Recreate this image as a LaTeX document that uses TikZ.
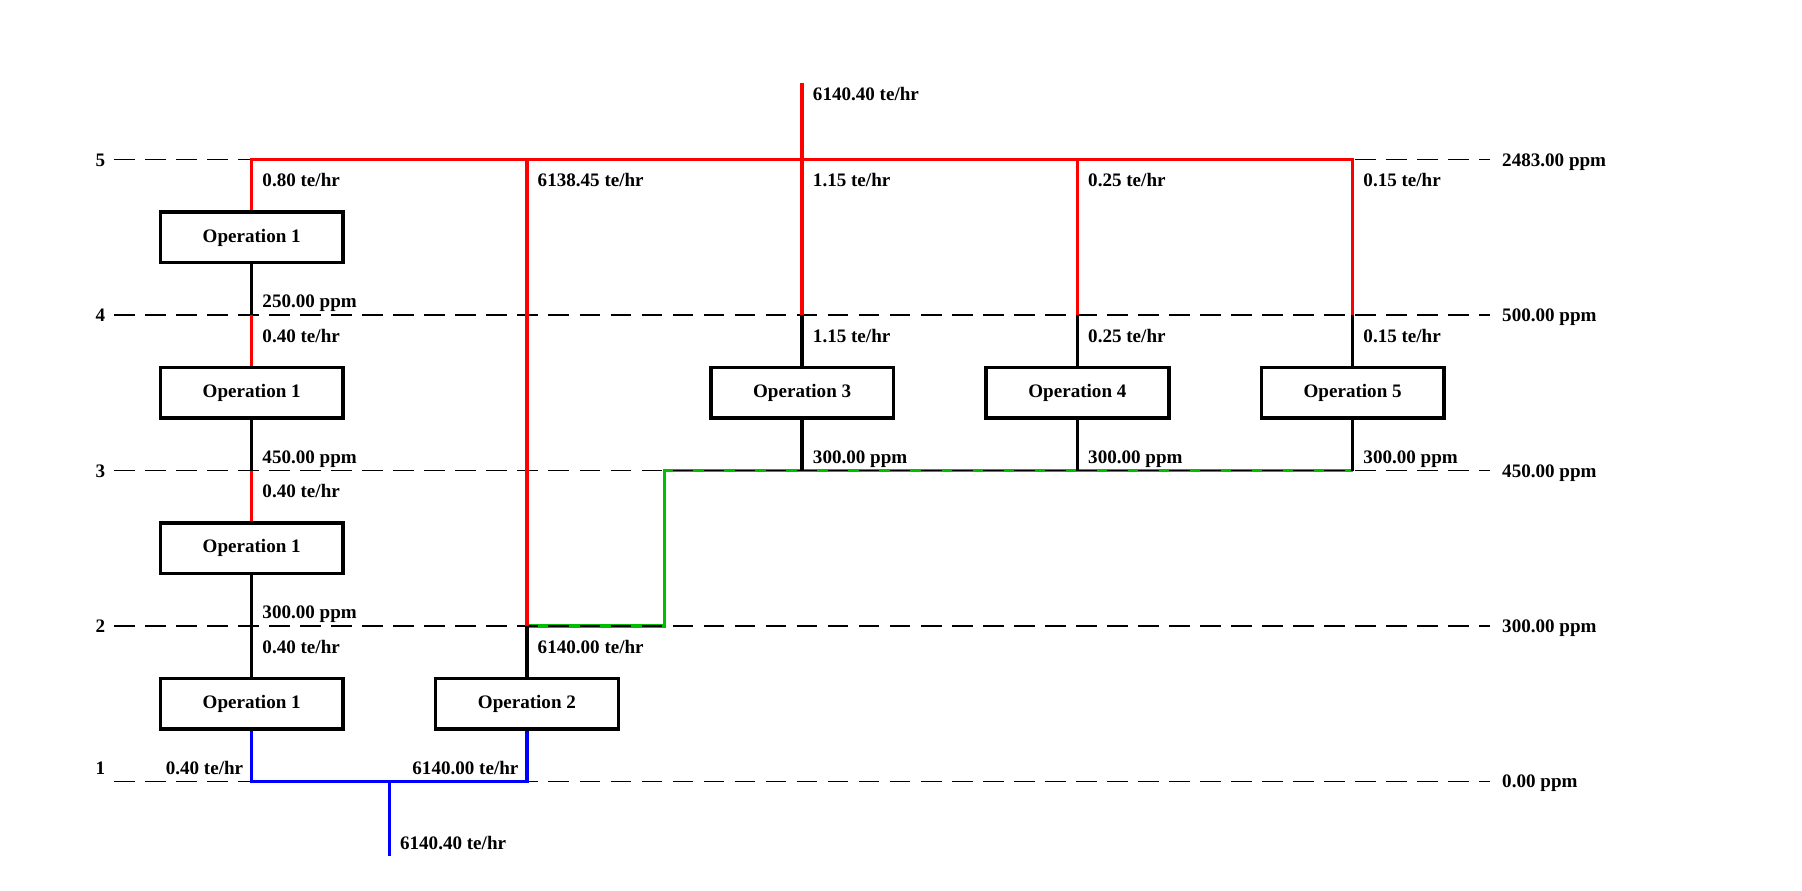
\documentclass[tikz,border=0pt]{standalone}
\usepackage{fontspec}
\setmainfont{Liberation Serif}
\usetikzlibrary{positioning}

\definecolor{hotred}{RGB}{255,0,0}
\definecolor{coldblue}{RGB}{0,0,255}
\definecolor{reusegreen}{RGB}{0,190,0}

\begin{document}
\begin{tikzpicture}[
  x=119.75pt, y=67.625pt,
  txt/.style={font=\bfseries\fontsize{8.3}{10}\selectfont, inner sep=0pt},
  op/.style={txt, rectangle, draw, line width=1.5pt,
             minimum width=79.5pt, minimum height=22pt},
  fl-dn/.style={txt, anchor=base west, xshift=4.5pt, yshift=-11.8pt},
  fl-up/.style={txt, anchor=base west, xshift=4.5pt, yshift=3.2pt},
  fl-ul/.style={txt, anchor=base east, xshift=-3.5pt, yshift=3.2pt},
  level/.style={line width=0.6pt, dash pattern=on 9pt off 4.5pt},
  pipe/.style={line width=1.5pt},
  hot/.style={pipe, hotred},
  cold/.style={pipe, coldblue},
  reuse/.style={pipe, reusegreen},
]
\useasboundingbox (0.0856,0.2976) rectangle (6.6326,6.0277);

% ---- operations ----
\node[op] (op1a) at (1,4.5) {Operation 1};
\node[op] (op1b) at (1,3.5) {Operation 1};
\node[op] (op1c) at (1,2.5) {Operation 1};
\node[op] (op1d) at (1,1.5) {Operation 1};
\node[op] (op2)  at (2,1.5) {Operation 2};
\foreach \i in {3,4,5}
  \node[op] (op\i) at (\i,3.5) {Operation \i};

% ---- junctions (column, level) ----
\foreach \c in {1,...,5}
  \foreach \k in {1,...,5}
    \coordinate (j\c\k) at (\c,\k);
\coordinate (feedin)  at (3,5.4955);
\coordinate (mix)     at (1.5,1);
\coordinate (feedout) at (1.5,0.52);
\coordinate (stepbot) at (2.5,2);
\coordinate (steptop) at (2.5,3);

% ---- reuse line ----
\draw[reuse] (j22) -- (stepbot) -- (steptop) -- (j53);

% ---- concentration levels ----
\foreach \k/\ppm/\dy in {1/0.00/6pt, 2/300.00/0pt, 3/450.00/0pt,
                         4/500.00/0pt, 5/2483.00/0pt} {
  \draw[level] (0.5,\k) -- (5.5,\k);
  \node[txt, anchor=base, yshift=-2.8pt+\dy] (lvl\k) at (0.45,\k) {\k};
  \node[txt, anchor=base west, xshift=5pt, yshift=-2.8pt] (ppm\k) at (5.5,\k) {\ppm{} ppm};
}

% ---- fresh water ----
\draw[hot] (feedin) -- (j34);
\draw[hot] (op1a.north) -- (j15) -- (j55) -- (j54);
\draw[hot] (j25) -- (j22);
\draw[hot] (j45) -- (j44);
\draw[hot] (j14) -- (op1b.north);
\draw[hot] (j13) -- (op1c.north);

% ---- through the operations ----
\draw[pipe] (op1a.south) -- (j14);
\draw[pipe] (op1b.south) -- (j13);
\draw[pipe] (op1c.south) -- (op1d.north);
\draw[pipe] (op2.north) -- (j22);
\foreach \i in {3,4,5} {
  \draw[pipe] (j\i4) -- (op\i.north);
  \draw[pipe] (op\i.south) -- (j\i3);
}

% ---- waste water ----
\draw[cold] (op1d.south) -- (j11) -- (j21) -- (op2.south);
\draw[cold] (mix) -- (feedout);

% ---- stream labels ----
\foreach \at/\dir/\t in {
    j15/dn/{0.80 te/hr}, j25/dn/{6138.45 te/hr}, j35/dn/{1.15 te/hr},
    j45/dn/{0.25 te/hr}, j55/dn/{0.15 te/hr},
    j14/up/{250.00 ppm}, j14/dn/{0.40 te/hr}, j34/dn/{1.15 te/hr},
    j44/dn/{0.25 te/hr}, j54/dn/{0.15 te/hr},
    j13/up/{450.00 ppm}, j13/dn/{0.40 te/hr}, j33/up/{300.00 ppm},
    j43/up/{300.00 ppm}, j53/up/{300.00 ppm},
    j12/up/{300.00 ppm}, j12/dn/{0.40 te/hr}, j22/dn/{6140.00 te/hr},
    j11/ul/{0.40 te/hr}, j21/ul/{6140.00 te/hr}}
  \node[fl-\dir] (t-\at-\dir) at (\at) {\t};
\node[fl-up, yshift=22.5pt] (t-feedin) at (j35) {6140.40 te/hr};
\node[fl-dn, yshift=-18pt] (t-feedout) at (mix) {6140.40 te/hr};

\end{tikzpicture}
\end{document}
